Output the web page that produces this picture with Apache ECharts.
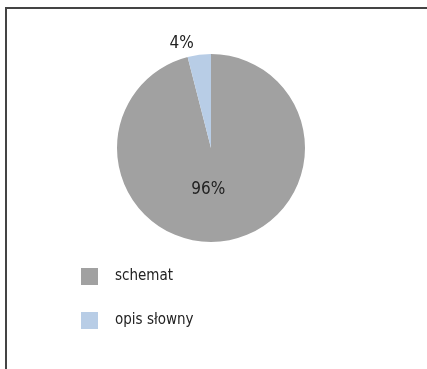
<!DOCTYPE html>
<html>
<head>
<meta charset="utf-8">
<script src="https://cdn.jsdelivr.net/npm/echarts@6/dist/echarts.min.js"></script>
<style>
html,body{margin:0;padding:0;background:#fff;}
#c{width:427px;height:369px;}
</style>
</head>
<body>
<div id="c"></div>
<script>
const categories = ['schemat', 'opis słowny'];
const values = [96, 4];
const colors = ['#a1a1a1', '#b8cde6'];

const chart = echarts.init(document.getElementById('c'));
const font = '"DejaVu Sans Condensed", "Liberation Sans Narrow", sans-serif';
chart.setOption({
  animation: false,
  legend: {
    orient: 'vertical',
    left: 81,
    top: 268,
    padding: 0,
    itemWidth: 17,
    itemHeight: 17,
    itemGap: 27,
    icon: 'rect',
    data: categories,
    textStyle: { fontFamily: font, fontSize: 15, color: '#222', padding: [0, 0, 0, 12] }
  },
  graphic: [{
    type: 'polyline',
    shape: { points: [[6, 369], [6, 8], [427, 8]] },
    style: { stroke: '#444', lineWidth: 2, fill: null }
  }],
  series: [{
    type: 'pie',
    center: [211, 148],
    radius: 94,
    startAngle: 90,
    clockwise: true,
    data: categories.map((c, i) => ({
      name: c,
      value: values[i],
      itemStyle: { color: colors[i] },
      label: i === 0
        ? { position: 'inside', offset: [-9, -8] }
        : { position: 'outside', offset: [0, -7] }
    })),
    label: {
      formatter: '{d}%',
      fontFamily: font,
      fontSize: 17,
      color: '#222'
    },
    labelLine: { show: false, length: 4, length2: 0 },
    emphasis: { disabled: true }
  }]
});
</script>
</body>
</html>
